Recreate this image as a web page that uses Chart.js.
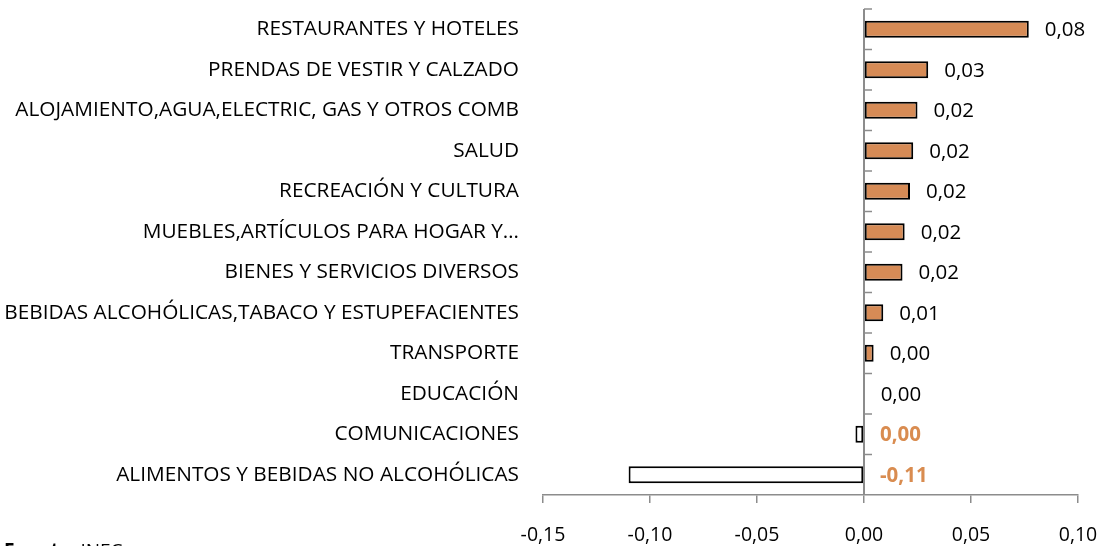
<!DOCTYPE html>
<html>
<head>
<meta charset="utf-8">
<script src="https://cdn.jsdelivr.net/npm/chart.js@4"></script>
<style>
  html, body { margin: 0; padding: 0; background: #fff; }
  #wrap { width: 1100px; height: 546px; }
</style>
</head>
<body>
<div id="wrap"><canvas id="chart" width="1100" height="546"></canvas></div>
<script>
const categories = [
  'RESTAURANTES Y HOTELES',
  'PRENDAS DE VESTIR Y CALZADO',
  'ALOJAMIENTO,AGUA,ELECTRIC, GAS Y OTROS COMB',
  'SALUD',
  'RECREACIÓN Y CULTURA',
  'MUEBLES,ARTÍCULOS PARA HOGAR Y…',
  'BIENES Y SERVICIOS DIVERSOS',
  'BEBIDAS ALCOHÓLICAS,TABACO Y ESTUPEFACIENTES',
  'TRANSPORTE',
  'EDUCACIÓN',
  'COMUNICACIONES',
  'ALIMENTOS Y BEBIDAS NO ALCOHÓLICAS'
];
const values = [0.077, 0.030, 0.025, 0.023, 0.0215, 0.019, 0.018, 0.009, 0.0045, 0.0003, -0.004, -0.110];
const valueLabels = ['0,08', '0,03', '0,02', '0,02', '0,02', '0,02', '0,02', '0,01', '0,00', '0,00', '0,00', '-0,11'];
const xTicks = [-0.15, -0.10, -0.05, 0.00, 0.05, 0.10];

const ORANGE = '#d68b56';
const LABEL_ORANGE = '#d98c50';
const AXIS_GRAY = '#8c8c8c';
const FONT = "'Open Sans', sans-serif";

// value labels next to each bar
const valueLabelPlugin = {
  id: 'valueLabels',
  afterDatasetsDraw(chart) {
    const ctx = chart.ctx;
    const meta = chart.getDatasetMeta(0);
    const zero = chart.scales.x.getPixelForValue(0);
    ctx.save();
    ctx.textBaseline = 'middle';
    meta.data.forEach((bar, i) => {
      const neg = values[i] < 0;
      ctx.font = (neg ? 'bold ' : '') + '20.5px ' + FONT;
      ctx.fillStyle = neg ? LABEL_ORANGE : '#000';
      const x = Math.max(bar.x, zero) + 16;
      ctx.fillText(valueLabels[i], x, bar.y + 1);
    });
    ctx.restore();
  }
};

// zero axis line with category tick marks, plus source note
const axisPlugin = {
  id: 'zeroAxis',
  afterDraw(chart) {
    const ctx = chart.ctx;
    const x = chart.scales.x.getPixelForValue(0);
    const y = chart.scales.y;
    const area = chart.chartArea;
    ctx.save();
    ctx.strokeStyle = AXIS_GRAY;
    ctx.lineWidth = 2;
    ctx.beginPath();
    ctx.moveTo(x, area.top);
    ctx.lineTo(x, area.bottom);
    ctx.stroke();
    ctx.lineWidth = 1.5;
    const step = (area.bottom - area.top) / categories.length;
    for (let i = 0; i < categories.length; i++) {
      const yy = y.getPixelForValue(i) - step / 2;
      ctx.beginPath();
      ctx.moveTo(x, yy);
      ctx.lineTo(x + 8, yy);
      ctx.stroke();
    }
    ctx.fillStyle = '#000';
    ctx.textBaseline = 'top';
    ctx.font = 'bold 19px ' + FONT;
    ctx.fillText('Fuente:', 4, 542);
    const w = ctx.measureText('Fuente: ').width;
    ctx.font = '19px ' + FONT;
    ctx.fillText('INEC', 4 + w, 542);
    ctx.restore();
  }
};

new Chart(document.getElementById('chart'), {
  type: 'bar',
  data: {
    labels: categories,
    datasets: [{
      data: values,
      backgroundColor: values.map(v => v < 0 ? '#ffffff' : ORANGE),
      borderColor: '#000',
      borderWidth: 2,
      borderSkipped: false,
      barPercentage: 0.85,
      categoryPercentage: 0.5
    }]
  },
  options: {
    indexAxis: 'y',
    responsive: false,
    animation: false,
    layout: { padding: { top: 9, left: 5, right: 22, bottom: 0 } },
    plugins: {
      legend: { display: false },
      tooltip: { enabled: false }
    },
    scales: {
      x: {
        min: -0.15,
        max: 0.10,
        afterBuildTicks(scale) {
          scale.ticks = xTicks.map(v => ({ value: v }));
        },
        afterFit(scale) {
          scale.height = 51;
          scale.paddingLeft = 0;
          scale.paddingRight = 0;
        },
        border: { display: true, color: AXIS_GRAY, width: 1.5 },
        grid: {
          drawOnChartArea: false,
          drawTicks: true,
          tickLength: 8,
          color: AXIS_GRAY,
          lineWidth: 1.5
        },
        ticks: {
          padding: 21,
          color: '#000',
          font: { family: FONT, size: 19.5 },
          callback: v => v.toFixed(2).replace('.', ',')
        }
      },
      y: {
        afterFit(scale) {
          scale.width = 538;
          scale.paddingTop = 0;
          scale.paddingBottom = 0;
        },
        border: { display: false },
        grid: { display: false, drawTicks: false },
        ticks: {
          padding: 24,
          color: '#000',
          font: { family: FONT, size: 20.8 }
        }
      }
    }
  },
  plugins: [valueLabelPlugin, axisPlugin]
});
</script>
</body>
</html>
